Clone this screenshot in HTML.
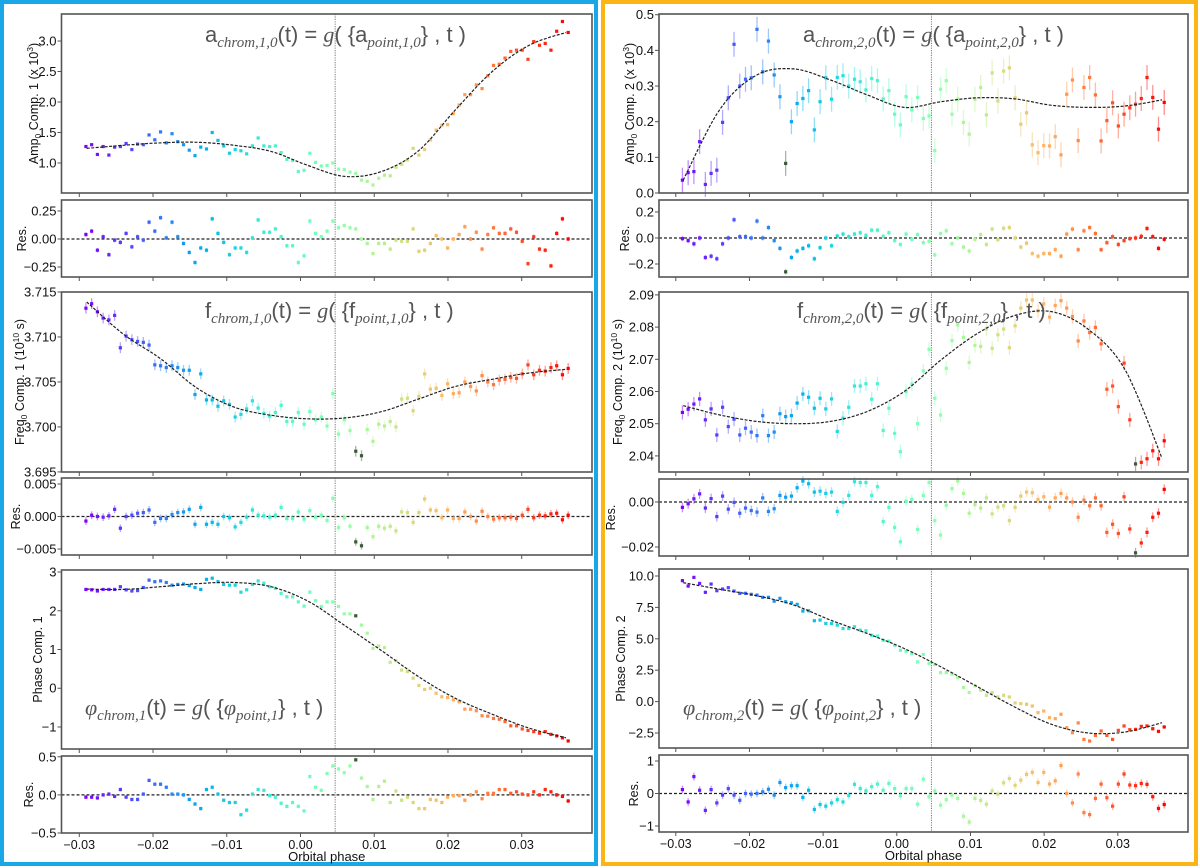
<!DOCTYPE html>
<html><head><meta charset="utf-8"><style>
html,body{margin:0;padding:0;background:#fff;}
svg{display:block;font-family:"Liberation Sans",sans-serif;}
</style></head><body>
<svg id="chart" width="1200" height="868" viewBox="0 0 1200 868" xmlns="http://www.w3.org/2000/svg">
<rect x="2" y="2" width="594" height="862" fill="none" stroke="#1aa7e6" stroke-width="4"/>
<rect x="603" y="2" width="593" height="862" fill="none" stroke="#fbb515" stroke-width="4"/>
<g id="layer"></g>
</svg>
<script>
// ---------- data ----------
const phaseStartL=-0.0291, phaseEndL=0.0363;
const phaseStartR=-0.0291, phaseEndR=0.0363;
const fitKnotPhases=[-0.029,-0.024,-0.019,-0.014,-0.009,-0.004,0.001,0.006,0.011,0.016,0.021,0.026,0.031,0.036];
const xTicks=[-0.03,-0.02,-0.01,0.00,0.01,0.02,0.03];
const xTickLabels=["\u22120.03","\u22120.02","\u22120.01","0.00","0.01","0.02","0.03"];
const refPhase=0.0047;

const ampL=[1.27,1.30,1.14,1.27,1.13,1.26,1.27,1.32,1.22,1.31,1.30,1.46,1.38,1.51,1.33,1.48,1.35,1.30,1.21,1.12,1.26,1.23,1.50,1.37,1.28,1.16,1.22,1.20,1.15,1.28,1.41,1.28,1.27,1.28,1.17,1.06,1.04,0.86,0.88,1.16,1.01,0.95,0.96,1.00,0.90,0.89,0.85,0.83,0.72,0.70,0.64,0.75,0.80,0.79,0.93,0.98,1.05,1.24,1.13,1.22,1.38,1.54,1.62,1.63,1.81,1.95,2.12,2.12,2.28,2.22,2.43,2.60,2.62,2.72,2.83,2.85,2.85,2.70,2.99,2.93,2.96,2.85,3.16,3.32,3.14];
const ampLFit=[1.24,1.29,1.33,1.34,1.29,1.19,0.96,0.78,0.86,1.20,1.87,2.50,2.93,3.14];
const ampLRes=[0.04,0.07,-0.10,0.02,-0.14,-0.01,-0.03,0.05,-0.07,0.02,-0.01,0.15,0.07,0.19,0.01,0.15,0.02,-0.04,-0.12,-0.21,-0.08,-0.10,0.18,0.05,-0.03,-0.14,-0.08,-0.08,-0.12,0.01,0.17,0.06,0.06,0.09,0.02,-0.06,-0.06,-0.21,-0.15,0.16,0.05,0.02,0.07,0.16,0.10,0.12,0.10,0.09,0.00,-0.04,-0.13,-0.04,-0.04,-0.09,-0.01,-0.02,-0.02,0.09,-0.11,-0.10,-0.04,0.03,0.00,-0.08,0.00,0.04,0.11,0.00,0.06,-0.09,0.04,0.10,0.05,0.05,0.09,0.06,-0.02,-0.22,0.02,-0.09,-0.10,-0.24,0.05,0.18,0.00];

const freqL=[3.7132,3.7137,3.7128,3.7121,3.7119,3.7124,3.7088,3.7101,3.7097,3.7095,3.7094,3.7091,3.7069,3.7068,3.7066,3.7068,3.7066,3.7063,3.7063,3.7036,3.7059,3.7030,3.7030,3.7023,3.7029,3.7025,3.7011,3.7014,3.7020,3.7029,3.7021,3.7015,3.7012,3.7016,3.7024,3.7006,3.7006,3.7016,3.7003,3.7017,3.7008,3.7011,3.7001,3.7037,3.6992,3.7008,3.6996,3.6973,3.6968,3.6997,3.6984,3.7003,3.7001,3.7006,3.7000,3.7031,3.7032,3.7018,3.7034,3.7059,3.7042,3.7043,3.7035,3.7048,3.7037,3.7038,3.7050,3.7045,3.7040,3.7057,3.7050,3.7047,3.7052,3.7053,3.7055,3.7054,3.7059,3.7069,3.7058,3.7063,3.7062,3.7066,3.7068,3.7058,3.7065];
const freqLFit=[3.7139,3.7103,3.7076,3.7043,3.7022,3.7013,3.7009,3.7010,3.7017,3.7031,3.7045,3.7053,3.7060,3.7064];
const freqLRes=[-0.0007,0.0002,0,-0.0001,0.0001,0.0011,-0.0018,0,0.0002,0.0005,0.0006,0.001,-0.0009,-0.0003,-0.0003,0.0003,0.0006,0.0007,0.0011,-0.0012,0.0014,-0.0012,-0.0009,-0.0012,0,-0.0002,-0.0016,-0.0009,-0.0001,0.001,0.0002,0.0001,-0.0001,0.0002,0.0014,-0.0003,-0.0003,0.0007,-0.0004,0.0009,-0.0001,0.0002,-0.0006,0.0028,-0.0017,-0.0002,-0.0015,-0.0039,-0.0045,-0.0017,-0.0031,-0.0015,-0.0018,-0.0015,-0.0022,0.0007,0.0006,-0.0009,0.0006,0.0027,0.001,0.0009,-0.0002,0.001,-0.0003,-0.0003,0.0007,0,-0.0007,0.0008,0,-0.0004,-0.0002,-0.0002,-0.0001,-0.0003,0.0002,0.0011,-0.0002,0.0002,0.0001,0.0004,0.0005,-0.0005,0.0002];

const phaseL=[2.55,2.54,2.51,2.55,2.55,2.55,2.62,2.54,2.51,2.52,2.60,2.79,2.75,2.77,2.73,2.66,2.68,2.69,2.65,2.60,2.55,2.81,2.84,2.75,2.68,2.66,2.66,2.48,2.54,2.68,2.77,2.71,2.62,2.58,2.45,2.36,2.36,2.23,2.12,2.48,2.26,2.11,2.23,2.23,2.11,1.92,1.92,1.87,1.63,1.42,1.03,1.09,1.05,0.67,0.71,0.47,0.43,0.26,0.07,-0.03,0.00,-0.13,-0.22,-0.24,-0.30,-0.35,-0.54,-0.54,-0.58,-0.71,-0.72,-0.78,-0.80,-0.86,-0.97,-0.97,-1.05,-1.09,-1.12,-1.16,-1.12,-1.19,-1.23,-1.28,-1.36];
const phaseLFit=[2.56,2.55,2.62,2.70,2.73,2.62,2.25,1.62,0.97,0.30,-0.26,-0.67,-1.03,-1.28];
const phaseLRes=[-0.03,-0.03,-0.04,0,0.01,-0.02,0.07,-0.03,-0.06,-0.06,0.01,0.19,0.14,0.14,0.10,0.01,0.01,0,-0.06,-0.12,-0.18,0.07,0.10,0.01,-0.07,-0.10,-0.10,-0.26,-0.20,0.01,0.07,0.06,-0.01,-0.03,-0.11,-0.15,-0.10,-0.15,-0.21,0.24,0.10,0.06,0.28,0.38,0.34,0.29,0.38,0.46,0.22,0.11,-0.06,0.11,0.18,-0.10,0.05,-0.07,-0.03,-0.10,-0.18,-0.18,-0.06,-0.07,-0.10,-0.03,-0.01,-0.01,-0.07,0,0.04,-0.05,0.02,0.02,0.07,0.07,0.02,0.04,0.01,0,0.04,0,0.07,0.04,0,-0.02,-0.08];

const ampR=[0.036,0.057,0.060,0.144,0.024,0.055,0.064,0.198,0.267,0.417,0.300,0.319,0.323,0.459,0.340,0.426,0.331,0.270,0.083,0.200,0.251,0.265,0.287,0.177,0.256,0.323,0.263,0.324,0.329,0.300,0.319,0.312,0.289,0.321,0.315,0.264,0.287,0.221,0.191,0.270,0.233,0.268,0.209,0.216,0.119,0.291,0.315,0.221,0.263,0.198,0.165,0.263,0.296,0.219,0.337,0.258,0.342,0.351,0.267,0.193,0.225,0.135,0.113,0.133,0.132,0.158,0.107,0.277,0.317,0.147,0.296,0.324,0.275,0.146,0.203,0.253,0.188,0.221,0.239,0.249,0.265,0.324,0.268,0.179,0.254];
const ampRFit=[0.036,0.235,0.331,0.348,0.317,0.275,0.240,0.256,0.267,0.264,0.246,0.240,0.244,0.261];
const ampRRes=[-0.005,-0.02,-0.045,0,-0.15,-0.14,-0.16,-0.045,0,0.14,0.01,0.01,0,0.13,0,0.08,-0.02,-0.08,-0.26,-0.15,-0.1,-0.08,-0.06,-0.16,-0.075,0,-0.06,0.015,0.03,0.01,0.03,0.04,0.02,0.06,0.06,0.013,0.04,-0.02,-0.05,0.03,-0.01,0.026,-0.036,-0.026,-0.13,0.034,0.055,-0.044,0,-0.07,-0.1,-0.01,0.026,-0.05,0.068,-0.013,0.075,0.08,0,-0.07,-0.04,-0.12,-0.14,-0.12,-0.12,-0.09,-0.14,0.03,0.068,-0.09,0.055,0.08,0.034,-0.09,-0.036,0.01,-0.05,-0.02,-0.005,0,0.013,0.073,0.01,-0.08,-0.01];

const freqR=[2.0535,2.0545,2.0561,2.0577,2.0512,2.0546,2.0465,2.0551,2.0491,2.0514,2.0465,2.0486,2.0474,2.0463,2.0525,2.0463,2.0474,2.0531,2.0522,2.0525,2.0564,2.0592,2.0582,2.0548,2.0579,2.0546,2.0577,2.0476,2.0517,2.0551,2.0617,2.0617,2.0624,2.0576,2.0624,2.0479,2.0548,2.0470,2.0413,2.0600,2.0623,2.0500,2.0664,2.0731,2.0579,2.0527,2.0672,2.0758,2.0807,2.0768,2.0690,2.0743,2.0740,2.0794,2.0734,2.0776,2.0794,2.0736,2.0804,2.0859,2.0884,2.0884,2.0851,2.0872,2.0831,2.0867,2.0882,2.0859,2.0833,2.0757,2.0819,2.0783,2.0799,2.0748,2.0607,2.0617,2.0553,2.0688,2.0512,2.0375,2.0380,2.0391,2.0416,2.0391,2.0447];
const freqRFit=[2.0556,2.0527,2.0507,2.0500,2.0507,2.0538,2.0600,2.0698,2.0781,2.0836,2.0848,2.0793,2.0667,2.0393];
const freqRRes=[-0.0024,-0.0008,0.0014,0.0036,-0.0027,0.0015,-0.0065,0.0026,-0.0032,-0.0002,-0.005,-0.0027,-0.0038,-0.0045,0.0018,-0.0042,-0.003,0.0029,0.0021,0.0026,0.0063,0.0093,0.0081,0.0044,0.0048,0.0038,0.0044,-0.0042,-0.0002,0.0029,0.009,0.0086,0.0086,0.0029,0.0068,-0.0087,-0.0024,-0.0113,-0.0177,0.0003,0.0011,-0.0122,0.0029,0.0086,-0.0083,-0.0147,-0.0015,0.0059,0.0093,0.0038,-0.005,-0.0012,-0.0027,0.0018,-0.0053,-0.0023,-0.0017,-0.0083,-0.0024,0.0026,0.0044,0.0041,0.0011,0.0023,-0.0023,0.0018,0.0038,0.0018,0,-0.0068,0.0008,-0.0017,0.0018,-0.0017,-0.0135,-0.0099,-0.014,0.0023,-0.012,-0.0226,-0.0182,-0.0135,-0.0068,-0.005,0.0056];

const phaseR=[9.63,9.20,9.89,9.41,8.70,9.36,8.83,8.96,9.07,8.80,8.62,8.62,8.54,8.48,8.30,8.30,8.00,8.22,7.95,7.87,7.74,7.21,7.23,6.44,6.49,6.22,6.22,6.09,5.82,5.82,5.96,5.69,5.64,5.29,5.21,4.89,4.81,4.49,4.09,4.01,3.83,3.16,3.75,3.03,2.95,2.31,2.31,2.18,1.91,1.12,0.72,1.25,0.90,0.50,0.72,0.37,0.50,0.37,-0.11,-0.16,-0.21,-0.35,-0.88,-0.75,-1.28,-1.36,-1.01,-2.08,-2.48,-1.70,-3.01,-3.14,-2.69,-2.34,-2.69,-3.01,-2.29,-1.94,-2.24,-2.21,-1.97,-1.94,-2.16,-2.37,-2.02];
const phaseRFit=[9.47,8.94,8.43,7.69,6.49,5.42,4.23,2.76,1.17,-0.43,-1.81,-2.50,-2.42,-1.68];
const phaseRRes=[0.12,-0.26,0.52,0.10,-0.52,0.12,-0.29,-0.05,0.15,-0.05,-0.21,0,-0.02,0,0.05,0.13,-0.05,0.34,0.18,0.24,0.24,-0.12,0.10,-0.49,-0.34,-0.39,-0.29,-0.19,-0.26,-0.06,0.28,0.15,0.08,0.21,0.29,0.10,0.31,0.15,-0.07,0.15,0.15,-0.33,0.44,-0.10,0.08,-0.36,-0.19,-0.05,-0.15,-0.70,-0.88,-0.15,-0.21,-0.33,0.08,-0.02,0.33,0.46,0.25,0.41,0.59,0.65,0.34,0.65,0.29,0.39,0.86,0,-0.29,0.60,-0.59,-0.65,-0.15,0.29,-0.13,-0.39,0.29,0.60,0.26,0.24,0.31,0.28,-0.10,-0.46,-0.34];

// ---------- layout ----------
const sides={
  L:{x0:61.5,x1:592,c:300.5,k:7374,p0:phaseStartL,p1:phaseEndL},
  R:{x0:659,x1:1188,c:896.8,k:7367,p0:phaseStartR,p1:phaseEndR}
};
const panels=[
 {id:"amp1",side:"L",y0:14,y1:193,ymin:0.508,ymax:3.443,data:ampL,fit:ampLFit,err:0.02,ticks:[1.0,1.5,2.0,2.5,3.0],tl:["1.0","1.5","2.0","2.5","3.0"],lab:"amp",n:"1",lx:33,dark:[]},
 {id:"amp1-res",side:"L",y0:200,y1:277,ymin:-0.339,ymax:0.348,data:ampLRes,err:0.02,ticks:[-0.25,0,0.25],tl:["\u22120.25","0.00","0.25"],lab:"res",lx:21,dark:[]},
 {id:"freq1",side:"L",y0:292,y1:472,ymin:3.69499,ymax:3.715,data:freqL,fit:freqLFit,err:0.0006,ticks:[3.695,3.700,3.705,3.710,3.715],tl:["3.695","3.700","3.705","3.710","3.715"],lab:"freq",n:"1",lx:19,dark:[47,48]},
 {id:"freq1-res",side:"L",y0:478,y1:555,ymin:-0.00592,ymax:0.00592,data:freqLRes,err:0.0006,ticks:[-0.005,0,0.005],tl:["\u22120.005","0.000","0.005"],lab:"res",lx:15,dark:[47,48]},
 {id:"phase1",side:"L",y0:570,y1:749,ymin:-1.568,ymax:3.052,data:phaseL,fit:phaseLFit,err:0.025,ticks:[-1,0,1,2,3],tl:["\u22121","0","1","2","3"],lab:"phase",n:"1",lx:37,dark:[47]},
 {id:"phase1-res",side:"L",y0:756,y1:833,ymin:-0.5,ymax:0.51,data:phaseLRes,err:0.025,ticks:[-0.5,0,0.5],tl:["\u22120.5","0.0","0.5"],lab:"res",lx:28,dark:[47],bottom:true},
 {id:"amp2",side:"R",y0:14,y1:193,ymin:0,ymax:0.502,data:ampR,fit:ampRFit,err:0.035,ticks:[0,0.1,0.2,0.3,0.4,0.5],tl:["0.0","0.1","0.2","0.3","0.4","0.5"],lab:"amp",n:"2",lx:629,dark:[18]},
 {id:"amp2-res",side:"R",y0:200,y1:277,ymin:-0.3,ymax:0.292,data:ampRRes,err:0.02,ticks:[-0.2,0,0.2],tl:["\u22120.2","0.0","0.2"],lab:"res",lx:624,dark:[18]},
 {id:"freq2",side:"R",y0:292,y1:472,ymin:2.035,ymax:2.0909,data:freqR,fit:freqRFit,err:0.0022,ticks:[2.04,2.05,2.06,2.07,2.08,2.09],tl:["2.04","2.05","2.06","2.07","2.08","2.09"],lab:"freq",n:"2",lx:617,dark:[79]},
 {id:"freq2-res",side:"R",y0:479,y1:556,ymin:-0.024,ymax:0.0102,data:freqRRes,err:0.0022,ticks:[-0.02,0],tl:["\u22120.02","0.00"],lab:"res",lx:610,dark:[79]},
 {id:"phase2",side:"R",y0:569,y1:748,ymin:-3.694,ymax:10.557,data:phaseR,fit:phaseRFit,err:0.12,ticks:[-2.5,0,2.5,5,7.5,10],tl:["\u22122.5","0.0","2.5","5.0","7.5","10.0"],lab:"phase",n:"2",lx:620,dark:[]},
 {id:"phase2-res",side:"R",y0:755,y1:832,ymin:-1.185,ymax:1.185,data:phaseRRes,err:0.12,ticks:[-1,0,1],tl:["\u22121","0","1"],lab:"res",lx:633,dark:[],bottom:true}
];
const titles=[
 {side:"L",y:42,x:205,sym:"a",sub:"chrom,1,0",psub:"point,1,0",name:"amp1-equation"},
 {side:"L",y:318,x:205,sym:"f",sub:"chrom,1,0",psub:"point,1,0",name:"freq1-equation"},
 {side:"L",y:715,x:85,sym:"\u03c6",sub:"chrom,1",psub:"point,1",name:"phase1-equation",greek:true},
 {side:"R",y:42,x:803,sym:"a",sub:"chrom,2,0",psub:"point,2,0",name:"amp2-equation"},
 {side:"R",y:318,x:797,sym:"f",sub:"chrom,2,0",psub:"point,2,0",name:"freq2-equation"},
 {side:"R",y:715,x:683,sym:"\u03c6",sub:"chrom,2",psub:"point,2",name:"phase2-equation",greek:true}
];

// ---------- helpers ----------
const NS="http://www.w3.org/2000/svg";
const layer=document.getElementById("layer");
function mk(tag,attrs,parent){const e=document.createElementNS(NS,tag);for(const k in attrs)e.setAttribute(k,attrs[k]);(parent||layer).appendChild(e);return e;}
function rainbow(t){let r=Math.abs(2*t-0.5),g=Math.sin(Math.PI*t),b=Math.cos(Math.PI*t/2);
 const c=v=>Math.round(255*Math.max(0,Math.min(1,v)));return `rgb(${c(r)},${c(g)},${c(b)})`;}
function xs(side,p){const s=sides[side];return s.c+p*s.k;}
function ysF(P){return v=>P.y1-(v-P.ymin)/(P.ymax-P.ymin)*(P.y1-P.y0);}
function catmull(xsArr,ysArr,steps){const pts=[];const n=xsArr.length;
 for(let i=0;i<n-1;i++){const x0=xsArr[Math.max(0,i-1)],x1=xsArr[i],x2=xsArr[i+1],x3=xsArr[Math.min(n-1,i+2)];
  const y0=ysArr[Math.max(0,i-1)],y1=ysArr[i],y2=ysArr[i+1],y3=ysArr[Math.min(n-1,i+2)];
  for(let s=0;s<steps;s++){const t=s/steps,t2=t*t,t3=t2*t;
   const f=(a,b,c,d)=>0.5*((2*b)+(-a+c)*t+(2*a-5*b+4*c-d)*t2+(-a+3*b-3*c+d)*t3);
   pts.push([f(x0,x1,x2,x3),f(y0,y1,y2,y3)]);}}
 pts.push([xsArr[n-1],ysArr[n-1]]);return pts;}

// ---------- draw panels ----------
panels.forEach(P=>{
 const S=sides[P.side];const ys=ysF(P);
 const g=mk("g",{});
 
 
 const rx=xs(P.side,refPhase);
 const rl=mk("line",{x1:rx,x2:rx,y1:P.y0,y2:P.y1,stroke:"#777","stroke-width":1,"stroke-dasharray":"1.2,1.2"},g);
 
 
 if(P.lab==="res"){
  const zl=mk("line",{x1:S.x0,x2:S.x1,y1:ys(0),y2:ys(0),stroke:"#222","stroke-width":1.2,"stroke-dasharray":"3,2"},g);
  
  
 }
 const n=P.data.length;
 P.data.forEach((v,i)=>{
  const p=S.p0+(S.p1-S.p0)*i/(n-1);
  const x=xs(P.side,p),y=ys(v);
  const col=P.dark.includes(i)?"#3a5a3a":rainbow(i/(n-1));
  const eb=mk("line",{x1:x,x2:x,y1:ys(v-P.err),y2:ys(v+P.err),stroke:col,"stroke-width":1.3,"stroke-opacity":0.45},g);
  
  
  const c=mk("rect",{x:x-1.6,y:y-1.6,width:3.2,height:3.2,fill:col},g);
  
  
 });
 if(P.fit){
  const pts=catmull(fitKnotPhases.map(p=>xs(P.side,p)),P.fit.map(ys),12);
  const fl=mk("path",{d:"M"+pts.map(q=>q[0].toFixed(1)+","+q[1].toFixed(1)).join("L"),fill:"none",stroke:"#222","stroke-width":1.2,"stroke-dasharray":"3,1.5"},g);
  
  
 }
 const fr=mk("rect",{x:S.x0,y:P.y0,width:S.x1-S.x0,height:P.y1-P.y0,fill:"none",stroke:"#555","stroke-width":1.6},g);
 
 
 P.ticks.forEach((t,j)=>{
  const y=ys(t);
  mk("line",{x1:S.x0-4,x2:S.x0,y1:y,y2:y,stroke:"#555","stroke-width":1},g);
  const tx=mk("text",{x:S.x0-5,y:y+4.5,"text-anchor":"end","font-size":13,fill:"#111"},g);
  tx.textContent=P.tl[j];
  
  
 });
 xTicks.forEach((t,j)=>{
  const x=xs(P.side,t);
  mk("line",{x1:x,x2:x,y1:P.y1,y2:P.y1+4,stroke:"#555","stroke-width":1},g);
  if(P.bottom){
   const tx=mk("text",{x:x,y:P.y1+16,"text-anchor":"middle","font-size":12.5,fill:"#111"},g);
   tx.textContent=xTickLabels[j];
   
   
  }
 });
 if(P.bottom){
  const xt=mk("text",{x:(S.x0+S.x1)/2,y:P.y1+28,"text-anchor":"middle","font-size":13,fill:"#111"},g);
  xt.textContent="Orbital phase";
  
  
 }
 const cy=(P.y0+P.y1)/2;
 const yl=mk("text",{x:0,y:0,transform:`translate(${P.lx+5},${cy}) rotate(-90)`,"text-anchor":"middle","font-size":12.5,fill:"#111"},g);
 
 
 if(P.lab==="res"){yl.textContent="Res.";}
 else if(P.lab==="amp"){yl.innerHTML=`Amp<tspan font-size="8.5" dy="3">0</tspan><tspan dy="-3"> Comp. ${P.n} (x 10</tspan><tspan font-size="8.5" dy="-5">3</tspan><tspan dy="5">)</tspan>`;}
 else if(P.lab==="freq"){yl.innerHTML=`Freq<tspan font-size="8.5" dy="3">0</tspan><tspan dy="-3"> Comp. ${P.n} (10</tspan><tspan font-size="8.5" dy="-5">10</tspan><tspan dy="5"> s)</tspan>`;}
 else {yl.textContent="Phase Comp. "+P.n;}
});

titles.forEach(T=>{
 const t=mk("text",{x:T.x,y:T.y,"font-size":22,fill:"#555","font-family":"'Liberation Sans',sans-serif"});
 
 
 const symStyle=T.greek?'font-family="Liberation Serif,serif" font-style="italic"':'';
 t.innerHTML=`<tspan ${symStyle}>${T.sym}</tspan><tspan font-size="15" font-style="italic" font-family="Liberation Serif,serif" dy="5">${T.sub}</tspan><tspan dy="-5">(t) = </tspan><tspan font-style="italic" font-family="Liberation Serif,serif">g</tspan><tspan>( {</tspan><tspan ${symStyle}>${T.sym}</tspan><tspan font-size="15" font-style="italic" font-family="Liberation Serif,serif" dy="5">${T.psub}</tspan><tspan dy="-5">} , t )</tspan>`;
});
</script>
</body></html>
